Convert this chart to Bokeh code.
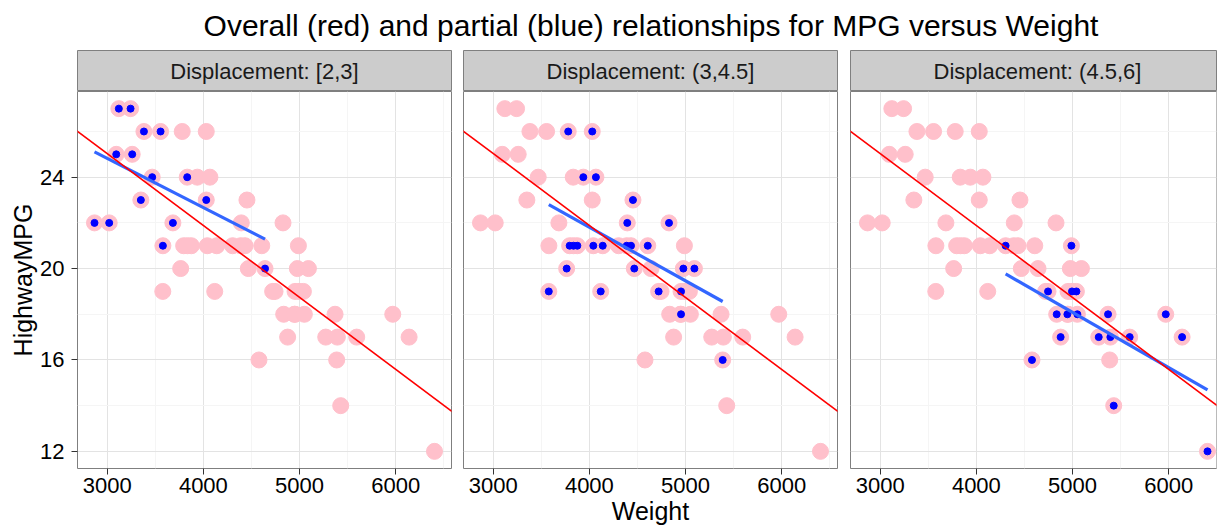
import numpy as np
from bokeh.plotting import figure
from bokeh.layouts import column, row
from bokeh.models import FixedTicker, Range1d, Slope
from bokeh.embed import file_html
from bokeh.resources import INLINE
from bokeh.core.properties import value

# ---------------- data ----------------
# Displacement [2,3]
g1_weight = [3121, 3243, 3382, 3555, 3094, 3260, 3468, 3832, 3350, 4030,
             2868, 3021, 3683, 3579, 4641]
g1_mpg = [27, 27, 26, 26, 25, 25, 24, 24, 23, 23,
          22, 22, 22, 21, 20]
# Displacement (3,4.5]
g2_weight = [3780, 4030, 3937, 4068, 4453, 4394, 4828,
             3795, 3835, 3875, 4041, 4139, 4388, 4433, 4607,
             3764, 4467, 4977, 5092,
             3578, 4118, 4720, 4953,
             4953, 5386]
g2_mpg = [26, 26, 24, 24, 23, 22, 22,
          21, 21, 21, 21, 21, 21, 21, 21,
          20, 20, 20, 20,
          19, 19, 19, 19,
          18, 16]
# Displacement (4.5,6]
g3_weight = [4304, 4988,
             4745, 4994, 5040,
             4835, 4946, 5050, 5369, 5969,
             4876, 5272, 5393, 5594, 6139,
             4578, 5428, 6403]
g3_mpg = [21, 21,
          19, 19, 19,
          18, 18, 18, 18, 18,
          17, 17, 17, 17, 17,
          16, 14, 12]

strip_labels = ["Displacement: [2,3]", "Displacement: (3,4.5]", "Displacement: (4.5,6]"]
x_ticks = [3000, 4000, 5000, 6000]
x_minor = [2500, 3500, 4500, 5500, 6500]
y_ticks = [12, 16, 20, 24]
y_minor = [14, 18, 22, 26]
title_text = "Overall (red) and partial (blue) relationships for MPG versus Weight"

# ---------------- computations ----------------
groups_w = [g1_weight, g2_weight, g3_weight]
groups_m = [g1_mpg, g2_mpg, g3_mpg]
all_w = np.array(g1_weight + g2_weight + g3_weight, dtype=float)
all_m = np.array(g1_mpg + g2_mpg + g3_mpg, dtype=float)
slope_all, icpt_all = np.polyfit(all_w, all_m, 1)

xpad = 0.05 * (all_w.max() - all_w.min())
ypad = 0.05 * (all_m.max() - all_m.min())
X0, X1 = all_w.min() - xpad, all_w.max() + xpad
Y0, Y1 = all_m.min() - ypad, all_m.max() + ypad

FONT = "Liberation Sans"
FULL_FW = 374
FW = [374, 374, 366]
ML = [77, 0, 0]
MR = [12, 13, 1]
FH = 377
STRIP_H = 41
TITLE_H = 50
BORDER = "#7F7F7F"

# ---------------- title ----------------
tf = figure(frame_width=1217, frame_height=TITLE_H, x_range=Range1d(0, 1217),
            y_range=Range1d(0, TITLE_H), min_border=0, min_border_left=0, min_border_right=0,
            min_border_top=0, min_border_bottom=0,
            x_axis_location=None, y_axis_location=None,
            toolbar_location=None, output_backend="svg", outline_line_color=None)
tf.title = None
tf.grid.visible = False
panels_center = ML[0] + (FULL_FW * 3 + MR[0] + MR[1]) / 2
tf.text(x=[panels_center], y=[TITLE_H - 25], text=[title_text], text_align="center",
        text_baseline="middle", text_font=value(FONT), text_font_size="30px",
        text_color="black")

cols = []
for i in range(3):
    # strip
    s = figure(frame_width=FW[i], frame_height=STRIP_H, x_range=Range1d(0, 1), y_range=Range1d(0, 1),
               min_border_left=ML[i], min_border_right=MR[i], min_border_top=0, min_border_bottom=0,
               x_axis_location=None, y_axis_location=None, toolbar_location=None,
               output_backend="svg", background_fill_color="#CCCCCC",
               outline_line_color=BORDER, outline_line_width=1)
    s.grid.visible = False
    s.text(x=[FULL_FW / FW[i] * 0.5], y=[0.5], text=[strip_labels[i]],
           text_align="center", text_baseline="middle", text_font=value(FONT),
           text_font_size="22px", text_color="#1A1A1A")

    # panel
    xr = Range1d(X0, X0 + (X1 - X0) * FW[i] / FULL_FW)
    p = figure(frame_width=FW[i], frame_height=FH, x_range=xr, y_range=Range1d(Y0, Y1),
               min_border_left=ML[i], min_border_right=MR[i], min_border_top=0,
               min_border_bottom=40, toolbar_location=None, output_backend="svg",
               y_axis_location="left" if i == 0 else None,
               outline_line_color=BORDER, outline_line_width=1,
               background_fill_color="white", border_fill_color="white")
    p.xgrid.ticker = FixedTicker(ticks=x_ticks, minor_ticks=x_minor)
    p.ygrid.ticker = FixedTicker(ticks=y_ticks, minor_ticks=y_minor)
    for g in (p.xgrid, p.ygrid):
        g.grid_line_color = "#E3E3E3"
        g.grid_line_width = 1
        g.minor_grid_line_color = "#F5F5F5"
        g.minor_grid_line_width = 1

    axes = list(p.xaxis) + (list(p.yaxis) if i == 0 else [])
    p.xaxis.ticker = FixedTicker(ticks=x_ticks)
    if i == 0:
        p.yaxis.ticker = FixedTicker(ticks=y_ticks)
    for ax in axes:
        ax.axis_line_color = None
        ax.major_tick_out = 6
        ax.major_tick_in = 0
        ax.minor_tick_out = 0
        ax.minor_tick_in = 0
        ax.major_tick_line_color = "#333333"
        ax.major_label_text_font = FONT
        ax.major_label_text_font_size = "22px"
        ax.major_label_text_color = "black"
        ax.major_label_standoff = 3
        ax.axis_label_text_font = FONT
        ax.axis_label_text_font_size = "25px"
        ax.axis_label_text_font_style = "normal"
        ax.axis_label_text_color = "black"
        ax.axis_label_standoff = 1
    if i == 1:
        p.xaxis.axis_label = "Weight"
    if i == 0:
        p.yaxis.axis_label = "HighwayMPG"
        p.yaxis.major_label_standoff = 7
        p.yaxis.axis_label_standoff = 0

    # all points (pink)
    p.scatter(all_w, all_m, size=16, fill_color="pink", line_color="pink")
    # subset points (blue)
    p.scatter(groups_w[i], groups_m[i], size=7, fill_color="blue", line_color="blue")
    # overall fit (red)
    p.add_layout(Slope(gradient=slope_all, y_intercept=icpt_all, line_color="red", line_width=1.6))
    # partial fit (blue)
    gw = np.array(groups_w[i], dtype=float)
    gm = np.array(groups_m[i], dtype=float)
    b, a = np.polyfit(gw, gm, 1)
    xs = np.array([gw.min(), gw.max()])
    p.line(xs, a + b * xs, line_color="#3366FF", line_width=3.2)

    cols.append(column(s, p, spacing=0))

layout = column(tf, row(*cols, spacing=0), spacing=0)
open("out.html", "w").write(file_html(layout, INLINE))
